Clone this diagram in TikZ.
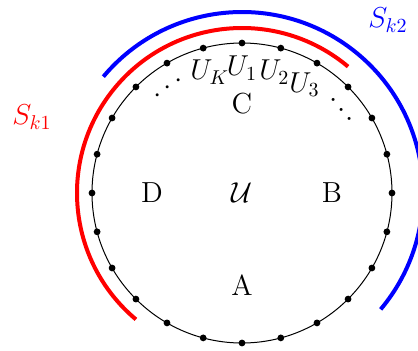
\documentclass[tikz,border=0pt]{standalone}
\begin{document}
\begin{tikzpicture}[x=0.5pt,y=0.5pt,
  ring/.style={line width=0.5pt},
  dotmark/.style={circle,fill=black,inner sep=0pt,minimum size=3.4pt},
  arcred/.style={red,line width=2pt},
  arcblue/.style={blue,line width=2pt},
  lbl/.style={font=\fontsize{14.5}{17}\selectfont,inner sep=1pt}]
\useasboundingbox (-242,-157) rectangle (176,193);
\coordinate (O) at (0,0);
\draw[ring] (O) circle[radius=150];
\foreach \a in {0,15,...,345} {
  \node[dotmark] (d\a) at (\a:150) {};
}
\draw[arcred] (50:165) arc[start angle=50,end angle=230,radius=165];
\draw[arcblue] (-40:181) arc[start angle=-40,end angle=140,radius=181];
\node[lbl,red] (sk1) at (-210,76) {$S_{k1}$};
\node[lbl,blue] (sk2) at (146,173) {$S_{k2}$};
\node[lbl] (uk) at (105:125) {$U_K$};
\node[lbl] (u1) at (90:125) {$U_1$};
\node[lbl] (u2) at (75:125) {$U_2$};
\node[lbl] (u3) at (60:125) {$U_3$};
\node[lbl,rotate=35,inner sep=0pt] (ld) at (125:128) {$\cdots$};
\node[lbl,rotate=-50,inner sep=0pt] (rd) at (40:129) {$\cdots$};
\node[lbl] (C) at (0,89) {C};
\node[lbl] (A) at (0,-92) {A};
\node[lbl] (D) at (-90,0) {D};
\node[lbl] (B) at (90,0) {B};
\node[lbl] (U) at (0,0) {$\mathcal{U}$};
\end{tikzpicture}
\end{document}
